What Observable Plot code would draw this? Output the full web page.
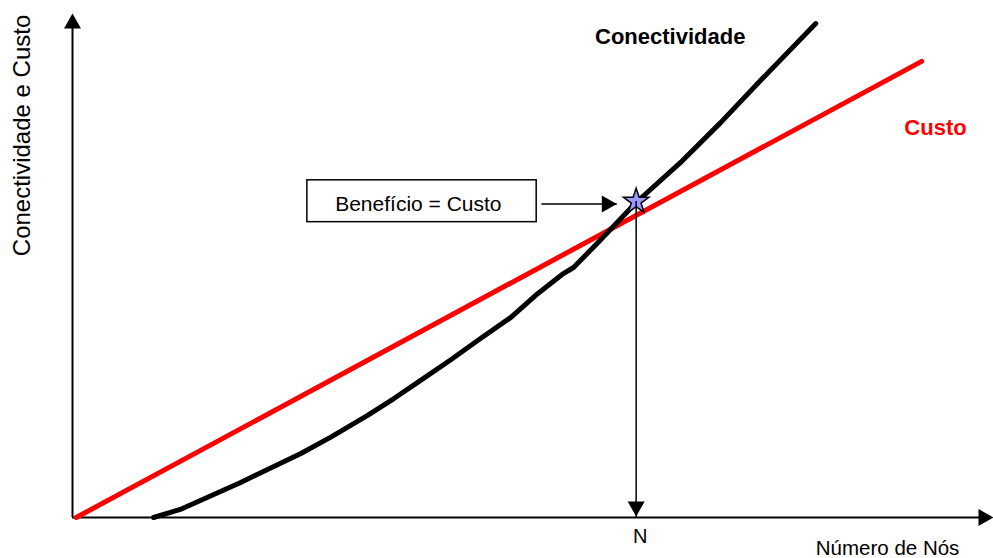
<!DOCTYPE html>
<html><head><meta charset="utf-8">
<script src="https://cdn.jsdelivr.net/npm/d3@7"></script>
<script src="https://cdn.jsdelivr.net/npm/@observablehq/plot@0.6"></script>
<style>html,body{margin:0;padding:0;background:#fff}svg{display:block}</style>
</head><body><div id="chart"></div>
<script>
// Conectividade (black curve)
const nodes = [8.8, 11.7, 18.2, 24.8, 28.0, 32.0, 34.9, 37.8, 41.0, 44.3, 47.6, 50.5, 53.3, 54.4, 57.3, 61.2, 66.0, 70.4, 74.7, 80.7];
const connectivity = [0, 1.6, 6.9, 12.7, 15.9, 20.2, 23.6, 27.2, 31.2, 35.5, 39.7, 44.4, 48.4, 49.6, 55.0, 62.5, 70.4, 78.4, 86.7, 98.0];
// Custo (red line)
const costNodes = [0.4, 92.2];
const cost = [0, 90.5];
// Break-even point
const breakEvenNodes = [61.2];
const breakEvenValue = [62.7];
// Texts
const seriesLabels = ["Conectividade", "Custo"];
const xLabel = "Número de Nós";
const yLabel = "Conectividade e Custo";
const nLabel = "N";
const boxLabel = "Benefício = Custo";

const connData = nodes.map((x, i) => ({x, y: connectivity[i]}));
const costData = costNodes.map((x, i) => ({x, y: cost[i]}));
const bePoint = [{x: breakEvenNodes[0], y: breakEvenValue[0]}];

function tri(dir) {
  return {draw(ctx) {
    const w = 8.5, h = 15;
    ctx.moveTo(0, 0);
    if (dir === "up") { ctx.lineTo(-w, h); ctx.lineTo(w, h); }
    else if (dir === "down") { ctx.lineTo(-w, -h); ctx.lineTo(w, -h); }
    else { ctx.lineTo(-h, -w); ctx.lineTo(-h, w); }
    ctx.closePath();
  }};
}

const font = "'Liberation Sans', Arial, sans-serif";
const box = {x1: 25.5, x2: 50.4, y1: 58.6, y2: 66.9};
const arrow = {x1: 50.9, x2: 59.1, y: 62.2};

const chart = Plot.plot({
  width: 993, height: 558,
  marginLeft: 72, marginRight: 0, marginTop: 13, marginBottom: 41,
  x: {domain: [0, 100], axis: null},
  y: {domain: [0, 100], axis: null},
  style: {fontFamily: font, background: "white", color: "black"},
  marks: [
    // axes
    Plot.ruleX([0], {y1: 0, y2: 99, stroke: "black", strokeWidth: 2}),
    Plot.ruleY([0], {x1: 0, x2: 99, stroke: "black", strokeWidth: 2}),
    Plot.dot([{x: 0, y: 100}], {x: "x", y: "y", symbol: tri("up"), fill: "black", stroke: null, r: 5}),
    Plot.dot([{x: 100, y: 0}], {x: "x", y: "y", symbol: tri("right"), fill: "black", stroke: null, r: 5}),
    // series
    Plot.line(costData, {x: "x", y: "y", stroke: "#ff0000", strokeWidth: 5}),
    Plot.line(connData, {x: "x", y: "y", stroke: "black", strokeWidth: 5}),
    // break-even star and vertical arrow
    Plot.dot(bePoint, {x: "x", y: "y", symbol: "star", r: 8, fill: "#9999ff", stroke: "black", strokeWidth: 1.5}),
    Plot.ruleX(bePoint, {x: "x", y1: 0, y2: "y", stroke: "black", strokeWidth: 1.5}),
    Plot.dot(bePoint, {x: "x", y: () => 0, symbol: tri("down"), fill: "black", stroke: null, r: 5, dy: -1}),
    // annotation box and arrow
    Plot.rect([box], {x1: "x1", x2: "x2", y1: "y1", y2: "y2", fill: "white", stroke: "black", strokeWidth: 1.5}),
    Plot.text([boxLabel], {x: (box.x1 + box.x2) / 2 - 0.4, y: 62.1, text: d => d, fontSize: 21, fill: "black"}),
    Plot.link([arrow], {x1: "x1", x2: "x2", y1: "y", y2: "y", stroke: "black", strokeWidth: 1.5}),
    Plot.dot([arrow], {x: "x2", y: "y", symbol: tri("right"), fill: "black", stroke: null, r: 5}),
    // labels
    Plot.text([seriesLabels[0]], {x: 64.9, y: 95.4, text: d => d, fontSize: 22, fontWeight: "bold", fill: "black"}),
    Plot.text([seriesLabels[1]], {x: 93.7, y: 77.2, text: d => d, fontSize: 22, fontWeight: "bold", fill: "#ff0000"}),
    Plot.text([nLabel], {x: breakEvenNodes[0], y: 0, dx: 4, dy: 19, text: d => d, fontSize: 20, fill: "black"}),
    Plot.text([xLabel], {x: 88.5, y: 0, dy: 31, text: d => d, fontSize: 20.5, fill: "black"}),
    Plot.text([yLabel], {x: -5.4, y: 75.8, text: d => d, rotate: -90, fontSize: 24, fill: "black"})
  ]
});
document.getElementById("chart").appendChild(chart);
</script>
</body></html>
